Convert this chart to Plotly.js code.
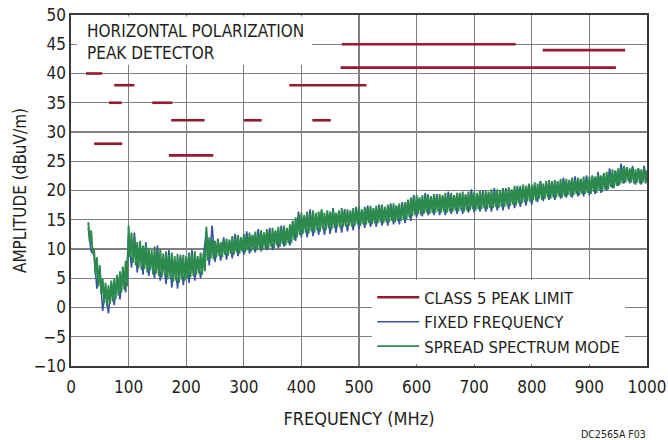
<!DOCTYPE html>
<html>
<head>
<meta charset="utf-8">
<script src="https://cdn.plot.ly/plotly-3.0.1.min.js"></script>
<style>
  html, body { margin: 0; padding: 0; background: #fff; }
  #chart { width: 668px; height: 440px; }
</style>
</head>
<body>
<div id="chart"></div>
<script>
// ---- data ----
// SPREAD SPECTRUM MODE (dBuV/m): one value every 2.5 MHz starting at 30 MHz
const spreadStartMHz = 30;
const spreadStepMHz = 2.5;
const spreadSpectrum = [
  14.6, 11.2, 13.2, 9.4, 10.0, 5.6, 8.6, 3.6, 7.2, 2.4, 5.0, 0.8, 4.2, 0.2, 3.8, 0.6, 4.6, 1.0, 5.0, 1.4,
  5.6, 2.0, 6.2, 2.6, 7.0, 3.0, 8.0, 3.6, 14.0, 8.6, 12.8, 7.6, 12.0, 7.2, 11.2, 6.8, 11.4, 6.4, 10.6, 6.6,
  10.8, 6.0, 10.2, 6.4, 9.8, 5.6, 10.4, 5.8, 9.6, 5.4, 10.0, 5.2, 9.2, 5.6, 9.6, 4.8, 9.0, 5.0, 9.4, 4.4,
  8.8, 4.6, 9.2, 4.2, 8.6, 4.8, 9.0, 4.6, 8.8, 5.0, 9.4, 5.2, 9.0, 5.4, 9.6, 5.6, 8.8, 5.8, 9.4, 5.6,
  9.2, 6.2, 13.8, 8.0, 12.0, 8.4, 11.6, 8.2, 11.4, 8.6, 11.8, 8.8, 11.2, 8.6, 11.6, 9.0, 11.8, 8.8, 11.6, 9.2,
  12.2, 9.0, 11.8, 9.4, 12.4, 9.2, 12.0, 9.6, 12.6, 9.4, 12.2, 9.8, 12.8, 9.6, 12.4, 9.8, 13.0, 9.8, 12.6, 10.0,
  13.2, 9.8, 12.8, 10.2, 13.4, 10.0, 13.0, 10.4, 13.6, 10.2, 13.2, 10.6, 13.8, 10.4, 13.4, 10.8, 14.0, 10.6, 13.6, 11.0,
  14.2, 11.0, 14.8, 11.6, 15.4, 12.0, 15.8, 12.4, 16.2, 12.6, 15.8, 12.8, 16.4, 12.6, 16.0, 13.0, 16.6, 12.8, 16.2, 13.2,
  16.4, 13.0, 16.8, 13.4, 16.2, 13.2, 16.6, 13.6, 16.4, 13.4, 16.8, 13.6, 16.2, 13.8, 16.6, 13.6, 17.0, 13.8, 16.4, 13.8,
  16.8, 14.0, 16.6, 13.8, 17.0, 14.0, 16.8, 14.2, 17.2, 14.0, 16.8, 14.2, 17.2, 14.2, 17.0, 14.4, 17.4, 14.2, 17.0, 14.4,
  17.4, 14.4, 17.2, 14.6, 17.6, 14.4, 17.2, 14.6, 17.6, 14.6, 17.4, 14.8, 17.8, 14.6, 17.4, 14.8, 17.8, 14.8, 17.6, 15.0,
  18.0, 15.0, 18.4, 15.4, 18.8, 15.6, 19.0, 15.8, 19.2, 16.0, 18.8, 15.8, 19.2, 16.0, 19.0, 16.2, 19.4, 16.0, 19.0, 16.2,
  19.4, 16.2, 19.0, 16.4, 19.4, 16.2, 19.2, 16.4, 19.6, 16.2, 19.2, 16.4, 19.6, 16.4, 19.2, 16.6, 19.6, 16.4, 19.4, 16.6,
  19.8, 16.4, 19.4, 16.6, 19.8, 16.6, 19.4, 16.8, 19.8, 16.6, 19.6, 16.8, 20.0, 16.8, 19.6, 17.0, 20.0, 16.8, 19.8, 17.0,
  20.2, 17.0, 19.8, 17.2, 20.2, 17.0, 20.0, 17.2, 20.4, 17.2, 20.0, 17.4, 20.6, 17.4, 20.2, 17.6, 20.8, 17.4, 20.4, 17.8,
  20.8, 17.8, 21.0, 18.0, 20.8, 18.2, 21.2, 18.0, 21.0, 18.4, 21.4, 18.2, 21.2, 18.6, 21.6, 18.4, 21.2, 18.6, 21.6, 18.8,
  21.8, 18.6, 21.4, 18.8, 21.8, 18.8, 21.6, 19.0, 22.0, 18.8, 21.6, 19.0, 22.0, 19.2, 21.8, 19.0, 22.2, 19.2, 21.8, 19.4,
  22.2, 19.2, 22.0, 19.4, 22.4, 19.4, 22.0, 19.6, 22.4, 19.4, 22.6, 19.8, 22.4, 19.6, 22.8, 20.0, 22.6, 19.8, 23.0, 20.2,
  23.2, 20.2, 23.0, 20.6, 23.6, 20.4, 23.4, 20.8, 23.8, 21.0, 23.6, 21.2, 24.2, 21.4, 24.0, 21.6, 23.8, 21.4, 24.0, 21.2,
  23.6, 21.4, 23.8, 21.2, 23.6, 21.4, 23.8, 21.2, 23.4
];

// FIXED FREQUENCY (dBuV/m): one value every 5 MHz starting at 30 MHz
const fixedStartMHz = 30;
const fixedStepMHz = 5;
const fixedFrequency = [
  13.6, 9.6, 9.0, 3.2, 6.6, -0.6, 3.2, -1.0, 4.0, 0.4,
  5.0, 1.4, 6.4, 2.6, 12.4, 6.8, 12.8, 6.0, 10.4, 5.6,
  11.2, 5.4, 9.2, 5.0, 10.6, 4.6, 8.6, 4.0, 9.8, 3.4,
  8.2, 3.2, 9.0, 3.8, 8.6, 4.2, 9.8, 4.6, 8.4, 5.0,
  8.8, 13.0, 7.2, 14.0, 7.8, 11.0, 8.0, 12.0, 8.2, 11.4,
  8.4, 12.6, 8.8, 12.0, 9.0, 13.0, 9.2, 12.4, 9.4, 13.4,
  9.6, 12.8, 9.8, 13.6, 9.8, 13.0, 10.2, 14.0, 10.4, 13.4,
  10.6, 14.8, 11.4, 16.4, 12.0, 15.6, 12.0, 16.8, 12.2, 15.8,
  12.4, 16.6, 12.4, 16.0, 12.6, 17.0, 12.8, 16.2, 12.8, 16.8,
  13.0, 16.4, 13.2, 17.2, 13.4, 16.6, 13.6, 17.4, 13.8, 16.8,
  13.8, 17.6, 14.0, 17.0, 14.0, 17.8, 14.2, 17.4, 14.2, 18.0,
  14.4, 18.4, 14.8, 19.2, 15.4, 18.8, 15.6, 19.6, 15.8, 19.0,
  15.8, 19.4, 15.8, 19.0, 15.8, 19.8, 16.0, 19.2, 16.0, 19.6,
  16.0, 19.2, 16.2, 20.2, 16.2, 19.4, 16.4, 20.0, 16.4, 19.6,
  16.4, 20.4, 16.6, 19.8, 16.6, 20.4, 16.8, 20.0, 17.0, 20.8,
  17.2, 20.4, 17.4, 21.0, 17.6, 20.8, 18.0, 21.6, 18.2, 21.2,
  18.4, 21.6, 18.4, 21.4, 18.6, 22.2, 18.8, 21.8, 18.8, 22.4,
  19.0, 22.0, 19.0, 22.6, 19.2, 22.4, 19.4, 23.2, 19.6, 22.8,
  20.0, 23.8, 20.4, 23.4, 20.8, 24.6, 21.2, 24.0, 21.2, 24.2,
  21.0, 23.8, 21.0, 24.2, 21.4
];

// CLASS 5 PEAK LIMIT segments (MHz start, MHz end, dBuV/m level)
const limitStart = [26, 75, 66, 141, 174, 300, 419, 40, 170, 379, 470, 468, 819];
const limitEnd   = [54, 110, 88, 176, 232, 331, 451, 89, 247, 513, 772, 946, 962];
const limitLevel = [40, 38, 35, 35, 32, 32, 32, 28, 26, 38, 45, 41, 44];

const seriesNames = ['CLASS 5 PEAK LIMIT', 'FIXED FREQUENCY', 'SPREAD SPECTRUM MODE'];
const chartNote = ['HORIZONTAL POLARIZATION', 'PEAK DETECTOR'];
const figureId = 'DC2565A F03';

// ---- build traces ----
const spreadFreqs = spreadSpectrum.map((_, i) => spreadStartMHz + i * spreadStepMHz);
const fixedFreqs = fixedFrequency.map((_, i) => fixedStartMHz + i * fixedStepMHz);

const limX = [], limY = [];
limitStart.forEach((s, i) => {
  limX.push(s, limitEnd[i], null);
  limY.push(limitLevel[i], limitLevel[i], null);
});

const FONT = '"DejaVu Sans Condensed", "Liberation Sans Narrow", sans-serif';
const TXT = '#231f20';

const traces = [
  { x: limX, y: limY, mode: 'lines', name: seriesNames[0],
    line: { color: '#951a2e', width: 2.6 }, connectgaps: false, hoverinfo: 'skip' },
  { x: fixedFreqs, y: fixedFrequency, mode: 'lines', name: seriesNames[1],
    line: { color: '#3853a3', width: 1.6 }, hoverinfo: 'skip' },
  { x: spreadFreqs, y: spreadSpectrum, mode: 'lines', name: seriesNames[2],
    line: { color: '#2c8a4c', width: 1.9 }, hoverinfo: 'skip' }
];

const axisCommon = {
  showgrid: true, gridcolor: '#808080', gridwidth: 1.3,
  zeroline: false, showline: true, mirror: true,
  linecolor: '#3a3a3a', linewidth: 1.6,
  ticks: '', tickfont: { family: FONT, size: 17, color: TXT },
  fixedrange: true
};

const layout = {
  width: 668, height: 440,
  margin: { l: 71, r: 21, t: 15, b: 73.5 },
  paper_bgcolor: '#fff', plot_bgcolor: '#fff',
  font: { family: FONT, color: TXT },
  showlegend: true,
  xaxis: Object.assign({}, axisCommon, {
    range: [0, 1000], tick0: 0, dtick: 100,
    ticklabelstandoff: 5,
    title: { text: 'FREQUENCY (MHz)', font: { family: FONT, size: 18, color: TXT }, standoff: 16 }
  }),
  yaxis: Object.assign({}, axisCommon, {
    range: [-10, 50], tick0: -10, dtick: 5,
    ticklabelstandoff: 0,
    title: { text: 'AMPLITUDE (dBuV/m)', font: { family: FONT, size: 17, color: TXT }, standoff: 3 }
  }),
  legend: {
    x: 0.523, y: 0.245, xanchor: 'left', yanchor: 'top',
    bgcolor: '#ffffff', borderwidth: 0,
    font: { family: FONT, size: 16.5, color: TXT },
    traceorder: 'normal', itemwidth: 42, tracegroupgap: 0
  },
  shapes: [
    { type: 'rect', xref: 'paper', yref: 'paper', x0: 0.0104, x1: 0.418, y0: 0.858, y1: 0.996,
      fillcolor: '#ffffff', line: { width: 0 }, layer: 'above' }
  ],
  annotations: [
    { xref: 'paper', yref: 'paper', x: 0.0238, y: 0.954, xanchor: 'left', yanchor: 'middle',
      text: chartNote[0], showarrow: false, font: { family: FONT, size: 17, color: TXT } },
    { xref: 'paper', yref: 'paper', x: 0.0238, y: 0.891, xanchor: 'left', yanchor: 'middle',
      text: chartNote[1], showarrow: false, font: { family: FONT, size: 17, color: TXT } },
    { xref: 'paper', yref: 'paper', x: 1.002, y: -0.195, xanchor: 'right', yanchor: 'middle',
      text: figureId, showarrow: false, font: { family: FONT, size: 10.5, color: TXT } }
  ]
};

Plotly.newPlot('chart', traces, layout, { displayModeBar: false, staticPlot: true });
</script>
</body>
</html>
